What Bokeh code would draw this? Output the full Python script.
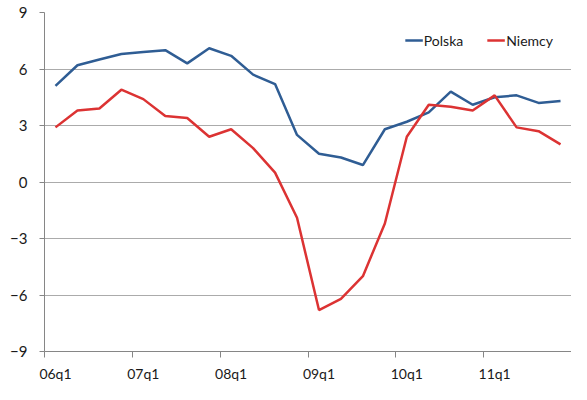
from bokeh.plotting import figure
from bokeh.models import FixedTicker, Legend, LegendItem, ColumnDataSource
from bokeh.embed import file_html
from bokeh.resources import INLINE

quarters = [f"{y:02d}q{q}" for y in range(6, 12) for q in range(1, 5)]
polska = [5.1, 6.2, 6.5, 6.8, 6.9, 7.0, 6.3, 7.1, 6.7, 5.7, 5.2, 2.5,
          1.5, 1.3, 0.9, 2.8, 3.2, 3.7, 4.8, 4.1, 4.5, 4.6, 4.2, 4.3]
niemcy = [2.9, 3.8, 3.9, 4.9, 4.4, 3.5, 3.4, 2.4, 2.8, 1.8, 0.5, -1.9,
          -6.8, -6.2, -5.0, -2.2, 2.4, 4.1, 4.0, 3.8, 4.6, 2.9, 2.7, 2.0]
y_ticks = [-9, -6, -3, 0, 3, 6, 9]
label_every = 4

idx = list(range(len(quarters)))
src = ColumnDataSource(dict(x=idx, polska=polska, niemcy=niemcy))

p = figure(width=571, height=384, output_backend="svg", toolbar_location=None,
           x_range=(-0.5, len(quarters) - 0.5), y_range=(-9, 9),
           min_border_left=44, min_border_right=0, min_border_top=12, min_border_bottom=26)
p.outline_line_color = None
p.background_fill_color = "white"

FONT = "Lato"
major = idx[::label_every]
minor = [i - 0.5 for i in idx][::label_every] + [len(quarters) - 0.5]
p.xaxis.ticker = FixedTicker(ticks=major, minor_ticks=minor)
p.xaxis.major_label_overrides = {i: quarters[i] for i in major}
p.xaxis.major_tick_line_color = None
p.xaxis.minor_tick_line_color = "#868686"
p.xaxis.minor_tick_out = 6
p.xaxis.minor_tick_in = 0
p.xaxis.major_label_standoff = 7

p.yaxis.ticker = FixedTicker(ticks=y_ticks)
p.yaxis.minor_tick_line_color = None
p.yaxis.major_tick_line_color = "#868686"
p.yaxis.major_tick_out = 5
p.yaxis.major_tick_in = 0
p.yaxis.major_label_standoff = 12

for ax in (p.xaxis, p.yaxis):
    ax.axis_line_color = "#868686"
    ax.major_label_text_font = FONT
    ax.major_label_text_font_size = "14px"
    ax.major_label_text_color = "#1a1a1a"
p.yaxis.major_label_text_font_size = "15px"

p.xgrid.grid_line_color = None
p.ygrid.grid_line_color = "#ABABAB"
p.ygrid.grid_line_width = 1

r1 = p.line("x", "polska", source=src, line_color="#2F5D94", line_width=2.5)
r2 = p.line("x", "niemcy", source=src, line_color="#DC3333", line_width=2.5)

legend = Legend(items=[LegendItem(label="Polska", renderers=[r1]),
                       LegendItem(label="Niemcy", renderers=[r2])],
                orientation="horizontal", location="top_right")
legend.border_line_color = None
legend.background_fill_alpha = 0
legend.label_text_font = FONT
legend.label_text_font_size = "14px"
legend.label_text_color = "#1a1a1a"
legend.glyph_width = 18
legend.label_standoff = 1
legend.spacing = 24
legend.margin = 18
legend.padding = 0
p.add_layout(legend)

open("out.html", "w").write(file_html(p, INLINE))
